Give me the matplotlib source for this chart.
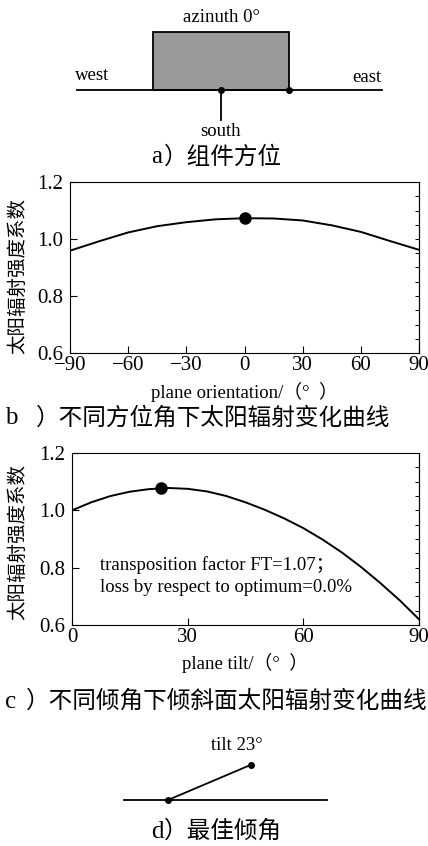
import numpy as np
import matplotlib
matplotlib.use("Agg")
import matplotlib.pyplot as plt
from matplotlib.patches import Rectangle
from matplotlib.ticker import MultipleLocator

plt.rcParams['font.family'] = ['Liberation Serif', 'Noto Sans CJK SC', 'DejaVu Sans']

# ---- data ----
orient_deg = [-90, -75, -60, -45, -30, -15, 0, 15, 30, 45, 60, 75, 90]
orient_factor = [0.959, 0.992, 1.023, 1.045, 1.059, 1.069, 1.073, 1.072, 1.065, 1.048, 1.025, 0.993, 0.962]
orient_opt = (0, 1.073)

tilt_deg = [0, 5, 10, 15, 20, 25, 30, 35, 40, 45, 50, 55, 60, 65, 70, 75, 80, 85, 90]
tilt_factor = [1.000, 1.028, 1.050, 1.065, 1.074, 1.078, 1.075, 1.066, 1.050, 1.028, 1.002, 0.972,
               0.938, 0.898, 0.853, 0.802, 0.746, 0.686, 0.620]
tilt_opt = (23, 1.078)
best_tilt = 23

orient_xticks = [-90, -60, -30, 0, 30, 60, 90]
tilt_xticks = [0, 30, 60, 90]
yticks = [0.6, 0.8, 1.0, 1.2]

ylabel = "太阳辐射强度系数"
cap_letters = ["a", "b", "c", "d"]
cap_texts = ["）组件方位", "）不同方位角下太阳辐射变化曲线", "）不同倾角下倾斜面太阳辐射变化曲线", "）最佳倾角"]

W, H = 428, 846
fig = plt.figure(figsize=(W / 100, H / 100), dpi=100)

ov = fig.add_axes([0, 0, 1, 1])
ov.set_xlim(0, W)
ov.set_ylim(H, 0)
ov.axis('off')

cjk = ['Liberation Serif', 'Noto Sans CJK SC']
lab_fs = 13.5
cap_fs = 17


def caption(i, x_letter, x_text, y):
    ov.text(x_letter, y, cap_letters[i], ha='left', va='center', fontsize=cap_fs + 1, family=cjk)
    ov.text(x_text, y, cap_texts[i], ha='left', va='center', fontsize=cap_fs, family=cjk)


# ---- panel a ----
ov.plot([77, 382], [90, 90], color='black', lw=1.3)
ov.add_patch(Rectangle((153, 32), 136, 58, facecolor='#999999', edgecolor='black', lw=1.3))
ov.plot([221, 221], [90, 120], color='black', lw=1.3)
ov.plot([221, 289], [90, 90], 'o', color='black', ms=4)
ov.text(221, 17, "azinuth 0°", ha='center', va='center', fontsize=lab_fs)
ov.text(75, 76, "west", ha='left', va='center', fontsize=lab_fs)
ov.text(381, 78, "east", ha='right', va='center', fontsize=lab_fs)
ov.text(221, 131, "south", ha='center', va='center', fontsize=lab_fs)
caption(0, 151, 164, 157)

# ---- panel d ----
x0, y0 = 168, 800
L = 90
x1 = x0 + L * np.cos(np.radians(best_tilt))
y1 = y0 - L * np.sin(np.radians(best_tilt))
ov.plot([124, 327], [800, 800], color='black', lw=1.3)
ov.plot([x0, x1], [y0, y1], color='black', lw=1.3)
ov.plot([x0, x1], [y0, y1], 'o', color='black', ms=4)
ov.text(237, 745, f"tilt {best_tilt}°", ha='center', va='center', fontsize=lab_fs)
caption(3, 151, 164, 832)


def style_axes(ax, xticks, xlim, label_x, label_y):
    ax.set_xlim(*xlim)
    ax.set_ylim(0.6, 1.2)
    ax.set_xticks(xticks)
    ax.set_yticks(yticks)
    ax.set_yticklabels([f"{v:.1f}" for v in yticks])
    ax.tick_params(axis='both', which='major', direction='in', length=5, width=0.8,
                   labelsize=15, top=False, right=False)
    ax.tick_params(axis='y', pad=5)
    ax.tick_params(axis='x', pad=2)
    for s in ax.spines.values():
        s.set_linewidth(0.8)
    axr = ax.secondary_yaxis('right')
    axr.yaxis.set_major_locator(MultipleLocator(0.05))
    axr.tick_params(direction='in', length=3, width=0.7, labelright=False)
    axr.spines['right'].set_linewidth(0.8)
    ax.set_ylabel(ylabel, family=cjk, fontsize=14)
    ax.yaxis.set_label_coords(label_x, label_y)


# ---- panel b ----
axb = fig.add_axes([70 / W, 1 - 353 / H, 349 / W, 171 / H])
axb.plot(orient_deg, orient_factor, color='black', lw=1.4)
axb.plot([orient_opt[0]], [orient_opt[1]], 'o', color='black', ms=8)
style_axes(axb, orient_xticks, (-90, 90), -0.123, 0.45)
axb.set_xticklabels([f"{t}".replace('-', '−') for t in orient_xticks])
axb.set_xlabel("plane orientation/（°  ）", family=cjk, fontsize=13.5)
axb.xaxis.set_label_coords(0.5, -0.17)
caption(1, 5, 36, 418)

# ---- panel c ----
axc = fig.add_axes([72 / W, 1 - 625 / H, 347 / W, 172 / H])
axc.plot(tilt_deg, tilt_factor, color='black', lw=1.4)
axc.plot([tilt_opt[0]], [tilt_opt[1]], 'o', color='black', ms=8)
style_axes(axc, tilt_xticks, (0, 90), -0.13, 0.48)
axc.set_xlabel("plane tilt/（°  ）", family=cjk, fontsize=13.5)
axc.xaxis.set_label_coords(0.5, -0.16)
axc.text(0.081, 0.285, "transposition factor FT=1.07；\nloss by respect to optimum=0.0%",
         transform=axc.transAxes, ha='left', va='center', fontsize=13.5, linespacing=1.4,
         family=cjk)
caption(2, 5, 26, 702)

fig.savefig("out.png", dpi=100)
